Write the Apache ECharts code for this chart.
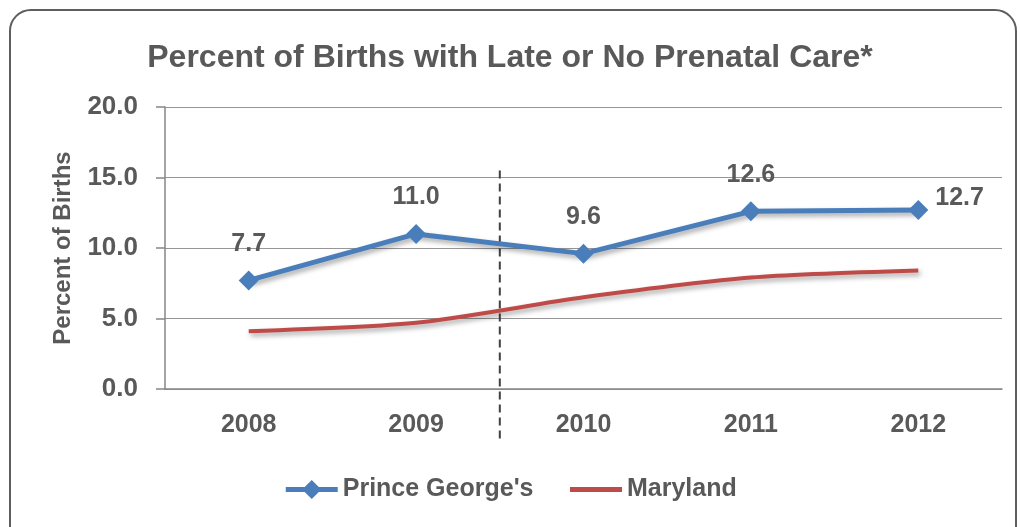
<!DOCTYPE html>
<html>
<head>
<meta charset="utf-8">
<title>Percent of Births with Late or No Prenatal Care</title>
<script src="https://cdn.jsdelivr.net/npm/echarts@6/dist/echarts.min.js"></script>
<style>
  html, body { margin: 0; padding: 0; background: #fff; }
  #frame { position: absolute; left: 9px; top: 9px; width: 1004px; height: 540px;
           border: 2px solid #5e5e5e; border-radius: 22px; pointer-events: none; }
</style>
</head>
<body>
<div id="chart" style="width:1020px;height:527px;"></div>
<div id="frame"></div>
<script>
  var years = ['2008', '2009', '2010', '2011', '2012'];
  var princeGeorges = [7.7, 11.0, 9.6, 12.6, 12.7];
  var maryland = [4.1, 4.7, 6.5, 7.9, 8.4];
  // dashed divider between 2009 and 2010 (x in category index units, y in percent)
  var divider = [[1.5, 15.5], [1.5, -3.8]];

  var textColor = '#595959';
  var font = 'Liberation Sans';

  var pgData = princeGeorges.map(function (v, i) {
    var last = i === princeGeorges.length - 1;
    return {
      value: v,
      label: last ? { position: 'right', distance: 7, offset: [0, -12] } : { position: 'top', distance: 14 }
    };
  });

  var chart = echarts.init(document.getElementById('chart'));
  chart.setOption({
    animation: false,
    textStyle: { fontFamily: font },
    title: {
      text: 'Percent of Births with Late or No Prenatal Care*',
      left: 'center',
      top: 37,
      textStyle: { fontFamily: font, fontSize: 32, fontWeight: 'bold', color: textColor }
    },
    legend: {
      bottom: 20,
      left: 'center',
      itemWidth: 52,
      itemHeight: 24,
      itemGap: 34,
      lineStyle: { width: 5 },
      textStyle: { fontFamily: font, fontSize: 25, fontWeight: 'bold', color: textColor },
      data: ["Prince George's", { name: 'Maryland', itemStyle: { opacity: 0 } }]
    },
    grid: { left: 165, right: 18, top: 107, bottom: 138 },
    xAxis: [{
      type: 'category',
      data: years,
      axisLine: { lineStyle: { color: '#868686', width: 1.5 } },
      axisTick: { length: 6, lineStyle: { color: '#868686', width: 1.5 } },
      axisLabel: { fontFamily: font, fontSize: 25, fontWeight: 'bold', color: textColor, margin: 24 }
    }, {
      type: 'value',
      show: false,
      min: -0.5,
      max: 4.5
    }],
    yAxis: {
      type: 'value',
      min: 0,
      max: 20,
      interval: 5,
      name: 'Percent of Births',
      nameLocation: 'middle',
      nameGap: 90,
      nameTextStyle: { fontFamily: font, fontSize: 24, fontWeight: 'bold', color: textColor },
      axisLine: { show: true, onZero: false, lineStyle: { color: '#868686', width: 1.5 } },
      axisTick: { show: true, length: 9, lineStyle: { color: '#868686', width: 1.5 } },
      splitLine: { lineStyle: { color: '#969696', width: 1.2 } },
      axisLabel: {
        fontFamily: font, fontSize: 26, fontWeight: 'bold', color: textColor, margin: 27,
        formatter: function (v) { return v.toFixed(1); }
      }
    },
    series: [{
      name: "Prince George's",
      type: 'line',
      data: pgData,
      symbol: 'diamond',
      symbolSize: 20,
      itemStyle: { color: '#4a7ebb' },
      lineStyle: { width: 5, color: '#4a7ebb', shadowColor: 'rgba(0,0,0,0.35)', shadowBlur: 5, shadowOffsetX: 2, shadowOffsetY: 3 },
      label: {
        show: true,
        fontFamily: font, fontSize: 25, fontWeight: 'bold', color: textColor,
        formatter: function (p) { return p.value.toFixed(1); }
      },
      z: 3
    }, {
      name: 'Maryland',
      type: 'line',
      data: maryland,
      symbol: 'none',
      smooth: 0.25,
      itemStyle: { color: '#be4b48' },
      lineStyle: { width: 4, color: '#be4b48', shadowColor: 'rgba(0,0,0,0.35)', shadowBlur: 5, shadowOffsetX: 2, shadowOffsetY: 3 },
      z: 2
    }, {
      name: 'divider',
      type: 'line',
      xAxisIndex: 1,
      data: divider,
      symbol: 'none',
      clip: false,
      silent: true,
      lineStyle: { color: '#404040', width: 2, type: [8, 5] },
      z: 1
    }]
  });
</script>
</body>
</html>
